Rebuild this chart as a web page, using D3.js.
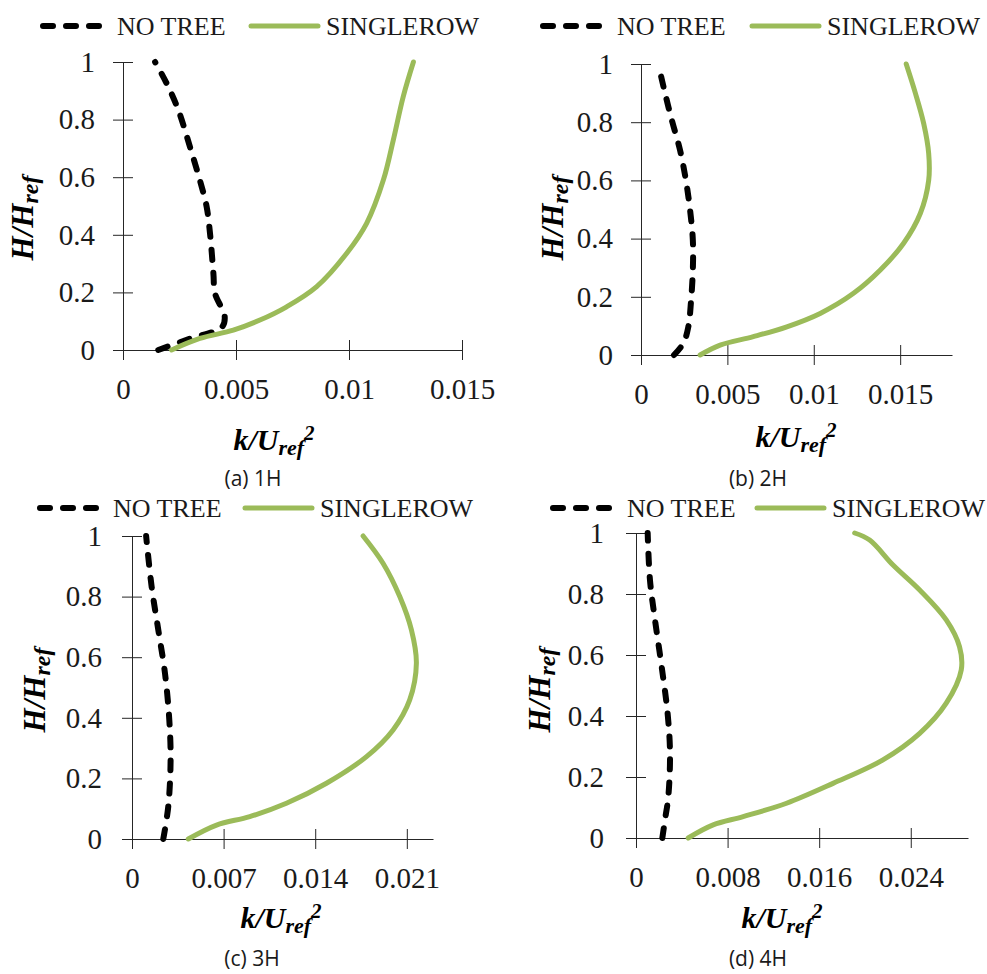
<!DOCTYPE html>
<html>
    <head>
        <title>k/Uref2 profiles</title>
        <meta charset="UTF-8">
        <script src="https://d3js.org/d3.v7.min.js"></script>
        <style>
            body{margin:0;background:#fff;}
        </style>
    </head>
    <body>
        <script>
            var w=987,h=974;
            var seriesNames=["NO TREE","SINGLEROW"];
            var captions=["(a) 1H","(b) 2H","(c) 3H","(d) 4H"];
            var hTicks=[0,0.2,0.4,0.6,0.8,1];
            var hTickLabels=["0","0.2","0.4","0.6","0.8","1"];
            var kTicks=[[0,0.005,0.01,0.015],[0,0.005,0.01,0.015],[0,0.007,0.014,0.021],[0,0.008,0.016,0.024]];
            var kTickLabels=[["0","0.005","0.01","0.015"],["0","0.005","0.01","0.015"],["0","0.007","0.014","0.021"],["0","0.008","0.016","0.024"]];
            var kMax=[0.015,0.018,0.023,0.029];

            // (a) 1H
            var noTreeH1=[0,0.039,0.079,0.116,0.197,0.266,0.405,0.498,0.59,0.706,0.833,0.926,1];
            var noTreeK1=[0.00156,0.00296,0.00437,0.0045,0.00407,0.004,0.00385,0.0037,0.0034,0.00296,0.00245,0.00193,0.00142];
            var rowH1=[0,0.04,0.069,0.104,0.15,0.22,0.336,0.44,0.59,0.729,0.88,1];
            var rowK1=[0.00215,0.0034,0.00488,0.00606,0.00724,0.00857,0.0099,0.01078,0.01152,0.01196,0.0124,0.01285];
            // (b) 2H
            var noTreeH2=[0,0.04,0.097,0.189,0.292,0.395,0.498,0.6,0.704,0.808,0.9,1];
            var noTreeK2=[0.00191,0.00245,0.00274,0.0029,0.003,0.003,0.00284,0.0026,0.00226,0.00178,0.00139,0.001];
            var rowH2=[0,0.034,0.063,0.097,0.143,0.212,0.292,0.384,0.487,0.6,0.693,0.796,0.9,1];
            var rowK2=[0.00342,0.00458,0.0065,0.00844,0.01037,0.0123,0.01385,0.0152,0.01617,0.01665,0.01665,0.01636,0.01588,0.01535];
            // (c) 3H
            var noTreeH3=[0,0.107,0.261,0.393,0.547,0.69,0.833,1];
            var noTreeK3=[0.00239,0.00277,0.00295,0.00285,0.00252,0.00201,0.0015,0.00108];
            var rowH3=[0,0.046,0.074,0.118,0.184,0.272,0.36,0.459,0.58,0.69,0.8,0.91,1];
            var rowK3=[0.0043,0.00646,0.009,0.0118,0.01486,0.01792,0.01995,0.02122,0.02173,0.02135,0.02046,0.01918,0.01766];
            // (d) 4H
            var noTreeH4=[0,0.059,0.135,0.278,0.409,0.562,0.715,0.846,1];
            var noTreeK4=[0.0023,0.00253,0.00282,0.00297,0.00276,0.00224,0.00166,0.00122,0.00102];
            var rowH4=[0,0.043,0.07,0.114,0.179,0.256,0.343,0.442,0.551,0.627,0.715,0.813,0.895,0.977,1];
            var rowK4=[0.00456,0.00674,0.00936,0.01315,0.01721,0.02157,0.02478,0.0271,0.02841,0.02826,0.0271,0.02478,0.02245,0.02041,0.0191];

            var noTreeH=[noTreeH1,noTreeH2,noTreeH3,noTreeH4];
            var noTreeK=[noTreeK1,noTreeK2,noTreeK3,noTreeK4];
            var rowH=[rowH1,rowH2,rowH3,rowH4];
            var rowK=[rowK1,rowK2,rowK3,rowK4];

            // layout of the four panels
            var boxes=[
                {l:123,r:462,t:62,b:350,leg:[40,117,249,326],legY:26,kx:274,ky:450,hx:23,hy:218,cx:253,cy:486,pad:18},
                {l:641,r:952,t:64,b:355,leg:[540,617,750,827],legY:26,kx:796,ky:447,hx:553,hy:218,cx:758,cy:486,pad:18},
                {l:132,r:433,t:536,b:839,leg:[37,113,243,320],legY:508,kx:281,ky:928,hx:35,hy:690,cx:252,cy:966,pad:20},
                {l:636,r:968,t:533,b:838,leg:[550,627,755,832],legY:508,kx:782,ky:928,hx:540,hy:690,cx:758,cy:966,pad:22}
            ];
            var green="#9BBB59";
            var serif="'Liberation Serif','Times New Roman',serif";

            var svg=d3.select("body").append("svg")
                    .attr("width",w)
                    .attr("height",h)
                    .style("font-family",serif);

            boxes.forEach(function(bx,i){
                var g=svg.append("g");
                var x=d3.scaleLinear().domain([0,kMax[i]]).range([bx.l,bx.r]);
                var y=d3.scaleLinear().domain([0,1]).range([bx.b,bx.t]);

                var yAxis=g.append("g")
                        .attr("transform","translate("+bx.l+",0)")
                        .call(d3.axisLeft(y).tickValues(hTicks).tickFormat(function(d,j){return hTickLabels[j];})
                            .tickSize(10).tickSizeOuter(0).tickPadding(bx.pad));
                yAxis.selectAll(".tick line").attr("x1",10);

                var xAxis=g.append("g")
                        .attr("transform","translate(0,"+bx.b+")")
                        .call(d3.axisBottom(x).tickValues(kTicks[i]).tickFormat(function(d,j){return kTickLabels[i][j];})
                            .tickSize(10).tickSizeOuter(0).tickPadding(18));
                xAxis.selectAll(".tick line").attr("y1",-10);
                g.selectAll(".tick text")
                        .style("font-family",serif)
                        .style("font-size","29px")
                        .attr("fill","#1a1a1a");
                g.selectAll(".domain,.tick line").attr("stroke","#262626");

                var line=d3.line()
                        .x(function(d){return x(d[0]);})
                        .y(function(d){return y(d[1]);})
                        .curve(d3.curveCatmullRom.alpha(0.5));

                g.append("path")
                        .datum(d3.zip(noTreeK[i],noTreeH[i]))
                        .attr("d",line)
                        .attr("fill","none")
                        .attr("stroke","#000")
                        .attr("stroke-width",6)
                        .attr("stroke-linecap","round")
                        .attr("stroke-dasharray","10,13");
                g.append("path")
                        .datum(d3.zip(rowK[i],rowH[i]))
                        .attr("d",line)
                        .attr("fill","none")
                        .attr("stroke",green)
                        .attr("stroke-width",5)
                        .attr("stroke-linecap","round");

                // legend
                g.append("line")
                        .attr("x1",bx.leg[0]+3).attr("x2",bx.leg[0]+70)
                        .attr("y1",bx.legY).attr("y2",bx.legY)
                        .attr("stroke","#000").attr("stroke-width",6)
                        .attr("stroke-linecap","round").attr("stroke-dasharray","10,13");
                g.append("line")
                        .attr("x1",bx.leg[2]+2).attr("x2",bx.leg[2]+69)
                        .attr("y1",bx.legY).attr("y2",bx.legY)
                        .attr("stroke",green).attr("stroke-width",5)
                        .attr("stroke-linecap","round");
                g.selectAll(".legtext")
                        .data(seriesNames)
                        .enter()
                        .append("text")
                        .attr("x",function(d,j){return bx.leg[j*2+1];})
                        .attr("y",bx.legY+9)
                        .style("font-size","26px")
                        .attr("fill","#1a1a1a")
                        .text(function(d){return d;});

                // axis titles
                var kt=g.append("text")
                        .attr("x",bx.kx).attr("y",bx.ky)
                        .attr("text-anchor","middle")
                        .style("font-size","30px").style("font-weight","bold").style("font-style","italic");
                kt.append("tspan").text("k/U");
                kt.append("tspan").style("font-size","22px").attr("dy",5).text("ref");
                kt.append("tspan").style("font-size","21px").attr("dy",-15).text("2");

                var ht=g.append("text")
                        .attr("transform","translate("+bx.hx+","+bx.hy+") rotate(-90)")
                        .attr("x",0).attr("y",10)
                        .attr("text-anchor","middle")
                        .style("font-size","31px").style("font-weight","bold").style("font-style","italic");
                ht.append("tspan").text("H/H");
                ht.append("tspan").style("font-size","24px").attr("dy",5).text("ref");

                g.append("text")
                        .attr("x",bx.cx).attr("y",bx.cy)
                        .attr("text-anchor","middle")
                        .style("font-family","'Open Sans',sans-serif")
                        .style("font-size","21px")
                        .attr("fill","#1a1a1a")
                        .text(captions[i]);
            });
        </script>
    </body>
</html>
